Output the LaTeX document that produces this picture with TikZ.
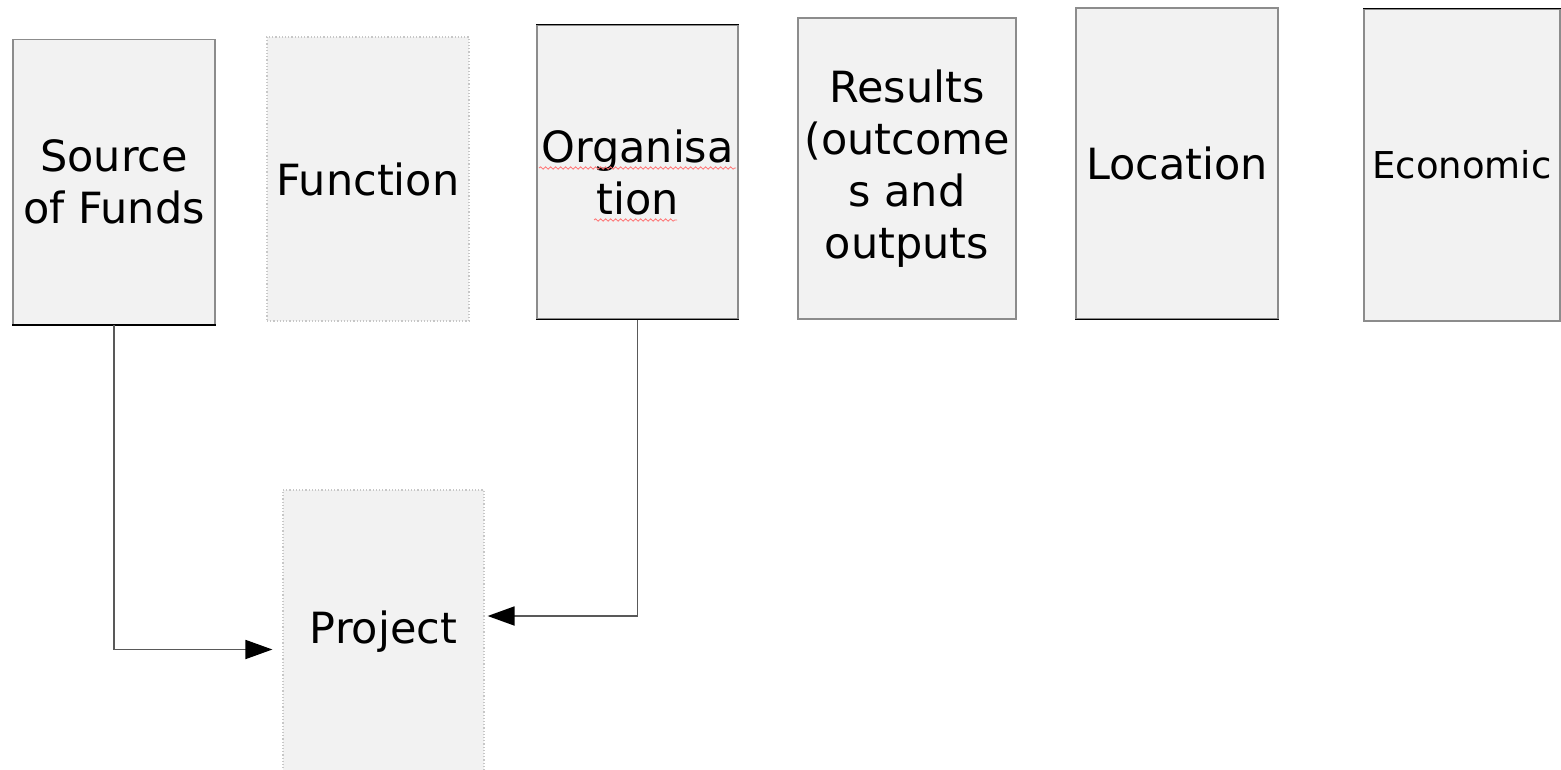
\documentclass[tikz,border=0pt]{standalone}
\usepackage{fontspec}
\setmainfont{DejaVu Sans}
\usetikzlibrary{arrows.meta}
\usetikzlibrary{decorations.pathmorphing}

\tikzset{
  dim/.style={rectangle, fill=black!5, draw=black!45, line width=1.2pt, inner sep=0pt,
    align=center, font=\fontsize{43}{52}\selectfont},
  faint/.style={draw=black!22, dotted},
  edge/.style={draw=black, line width=1.6pt},
  link/.style={draw=black!65, line width=1.8pt, -{Triangle[length=27pt,width=19pt,color=black]}},
  squiggle/.style={red!55, line width=0.8pt, decorate, decoration={snake, segment length=5pt, amplitude=1.2pt}}
}

\begin{document}
\begin{tikzpicture}[x=1pt,y=-1pt]

\useasboundingbox (0,0) rectangle (1561,770);

\node[dim, minimum width=202pt, minimum height=285pt] (funds) at (114,182) {Source\\of Funds};
\node[dim, faint, minimum width=202pt, minimum height=284pt] (func) at (368,179) {Function};
\node[dim, minimum width=201pt, minimum height=294pt] (org) at (637.5,172) {Organisa\\tion};
\node[dim, minimum width=218pt, minimum height=301pt] (res) at (907,168.5) {Results\\(outcome\\s and\\outputs};
\node[dim, minimum width=202pt, minimum height=311pt] (loc) at (1177,163.5) {Location};
\node[dim, minimum width=196pt, minimum height=312pt, font=\fontsize{37}{46}\selectfont] (econ) at (1462,165) {Economic};
\node[dim, faint, minimum width=201pt, minimum height=284pt] (proj) at (383.5,632) {Project};

% darker edges
\draw[edge] (funds.south west) -- (funds.south east);
\draw[edge] (org.north west) -- (org.north east);
\draw[edge] (org.south west) -- (org.south east);
\draw[edge] (loc.south west) -- (loc.south east);
\draw[edge] (econ.north west) -- (econ.north east);

% spelling marks
\draw[squiggle] (539,168) -- (736,168);
\draw[squiggle] (594,220) -- (677,220);

\draw[link, shorten >=10pt] (funds.south) |- ([yshift=-17.5pt]proj.west);
\draw[link, shorten >=3pt] (org.south) |- ([yshift=16pt]proj.east);

\end{tikzpicture}
\end{document}
